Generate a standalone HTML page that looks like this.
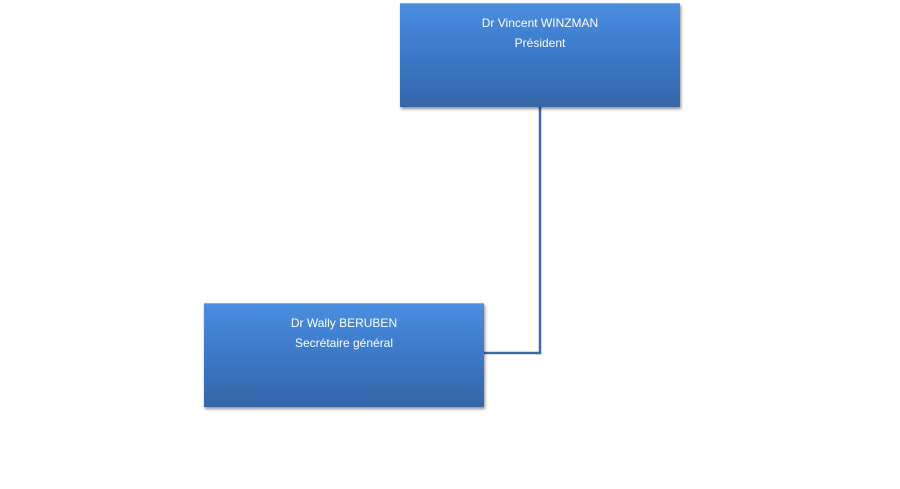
<!DOCTYPE html>
<html><head><meta charset="utf-8"><style>
body{margin:0;width:900px;height:489px;background:#fff;position:relative;overflow:hidden;font-family:"Liberation Sans",sans-serif}
.b{position:absolute;width:280px;height:104px;background:linear-gradient(#4a8ee0,#3b78c8 50%,#3566a8);box-shadow:1px 2px 3px rgba(0,0,0,.45);border-top:1px solid #7fb0ec;box-sizing:border-box;color:#fff;text-align:center;font-size:12px;line-height:20px;padding-top:9px}
</style></head><body>
<svg width="900" height="489" style="position:absolute;left:0;top:0">
<polyline points="540,106 540,353 484,353" fill="none" stroke="#3e6aa2" stroke-width="2.5"/>
</svg>
<div class="b" style="left:400px;top:3px">Dr Vincent WINZMAN<br>Président</div>
<div class="b" style="left:204px;top:303px">Dr Wally BERUBEN<br>Secrétaire général</div>
</body></html>
